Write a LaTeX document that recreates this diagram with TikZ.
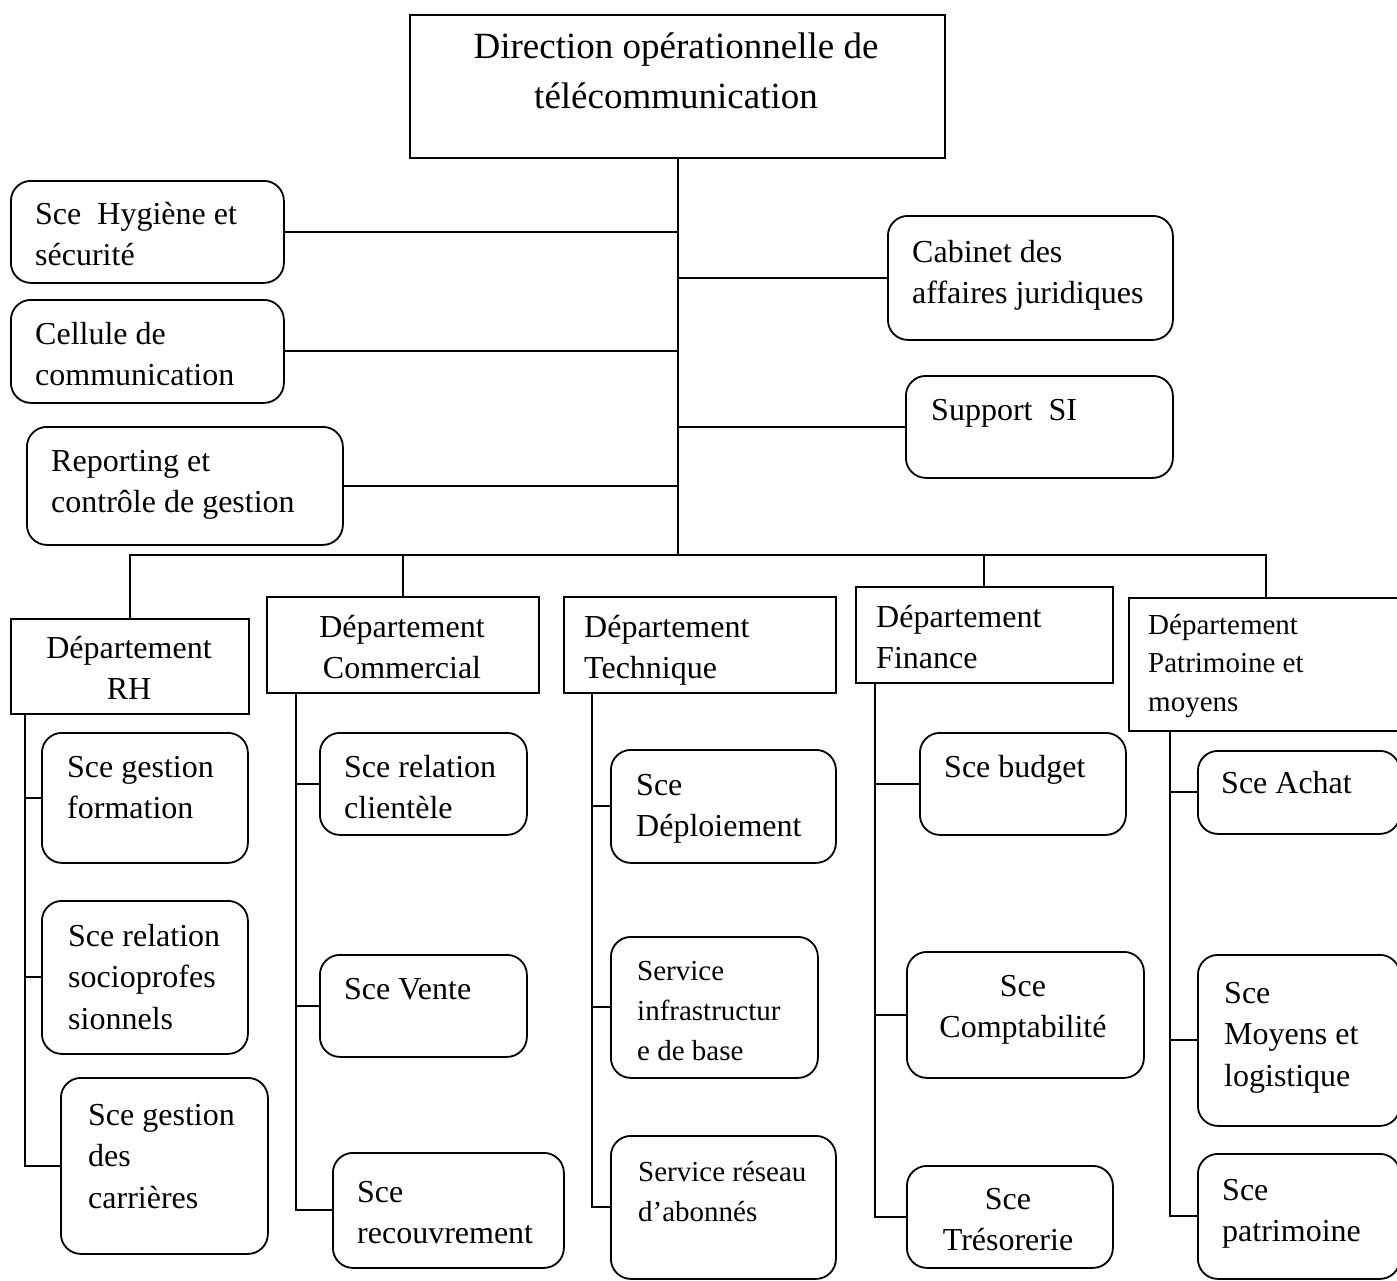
\documentclass[tikz,border=0pt]{standalone}
\usepackage{fontspec}
\setmainfont{Liberation Serif}
\usepackage{tikz}

\tikzset{
  conn/.style={line width=2pt},
  svc/.style={draw, line width=1.8pt, rounded corners=20pt, anchor=north west, inner sep=0pt},
  dept/.style={draw, line width=1.8pt, anchor=north west, inner sep=0pt},
  lbl/.style={anchor=base west, align=left, inner sep=0pt, font=\fontsize{32}{41.5}\selectfont},
  clbl/.style={anchor=base, align=center, inner sep=0pt, font=\fontsize{32}{41.5}\selectfont},
  small/.style={font=\fontsize{29}{40}\selectfont},
}

\begin{document}
\begin{tikzpicture}[x=1pt, y=-1pt]
    \useasboundingbox (0,0) rectangle (1397,1280);

    % direction + departments (square boxes)
    \foreach \nm/\x/\y/\w/\h in {title/409/14/535/143, rh/10/618/238/95, com/266/596/272/96,
        tec/563/596/272/96, fin/855/586/257/96, pat/1128/597/274/133}
        \node[dept, minimum width=\w pt, minimum height=\h pt] (\nm) at (\x,\y) {};

    % services (rounded boxes)
    \foreach \nm/\x/\y/\w/\h in {hyg/10/180/273/102, cell/10/299/273/103, rep/26/426/316/118,
        cab/887/215/285/124, sup/905/375/267/102,
        formation/41/732/206/130, socio/41/900/206/153, carrieres/60/1077/207/176,
        clientele/319/732/207/102, vente/319/954/207/102, recouv/332/1152/231/115,
        deploi/610/749/225/113, infra/610/936/207/141, reseau/610/1135/225/143,
        budget/919/732/206/102, compta/906/951/237/126, treso/906/1165/206/102,
        achat/1197/750/202/83, moyens/1197/954/202/171, patri/1197/1153/202/125}
        \node[svc, minimum width=\w pt, minimum height=\h pt] (\nm) at (\x,\y) {};

    % texts (y = baseline of the last line)
    \node[clbl, font=\fontsize{37}{50}\selectfont] (title-t) at (676,108) {Direction opérationnelle de\\télécommunication};
    \foreach \nm/\x/\y/\txt in {hyg/35/265.5/{Sce~ Hygiène et\\sécurité}, cell/35/385.5/{Cellule de\\communication},
        rep/51/512.5/{Reporting et\\contrôle de gestion}, cab/912/303.5/{Cabinet des\\affaires juridiques},
        sup/931/420/{Support~ SI}, tec/584/678.5/{Département\\Technique}, fin/876/668.5/{Département\\Finance},
        formation/67/818.5/{Sce gestion\\formation}, socio/68/1029/{Sce relation\\socioprofes\\sionnels},
        carrieres/88/1208/{Sce gestion\\des\\carrières}, clientele/344/818.5/{Sce relation\\clientèle},
        vente/344/999/{Sce Vente}, recouv/357/1243.5/{Sce\\recouvrement},
        deploi/636/836.5/{Sce\\Déploiement}, budget/944/777/{Sce budget},
        achat/1221/793/{Sce Achat}, moyens/1224/1086/{Sce\\Moyens et\\logistique}, patri/1222/1241.5/{Sce\\patrimoine}}
        \node[lbl] (\nm-t) at (\x,\y) {\txt};
    \foreach \nm/\x/\y/\txt in {rh/129/699.5/{Département\\RH}, com/402/678.5/{Département\\Commercial},
        compta/1023/1037.5/{Sce\\Comptabilité}, treso/1008/1250.5/{Sce\\Trésorerie}}
        \node[clbl] (\nm-t) at (\x,\y) {\txt};
    \node[lbl, small] (infra-t) at (637,1060) {Service\\infrastructur\\e de base};
    \node[lbl, small] (reseau-t) at (638,1221) {Service réseau\\d’abonnés};
    \node[lbl, font=\fontsize{29}{38.5}\selectfont] (pat-t) at (1148,711) {Département\\Patrimoine et\\moyens};

    % spine and bus
    \coordinate (bus) at (678,555);
    \draw[conn] (title.south -| bus) -- (bus);
    \foreach \b in {hyg,cell,rep}
        \draw[conn] (\b.east) -- (\b.east -| bus);
    \foreach \b in {cab,sup}
        \draw[conn] (\b.west -| bus) -- (\b.west);
    \draw[conn] (rh.north) -- (rh.north |- bus) -- (pat.north |- bus) -- (pat.north);
    \foreach \d in {com,fin}
        \draw[conn] (\d.north |- bus) -- (\d.north);

    % department lines
    \coordinate (rh-s) at (25,713);
    \coordinate (com-s) at (296,692);
    \coordinate (tec-s) at (592,692);
    \coordinate (fin-s) at (875,682);
    \coordinate (pat-s) at (1170,730);
    \foreach \d/\last/\others in {rh-s/carrieres/{formation,socio}, com-s/recouv/{clientele,vente},
        tec-s/reseau/{deploi,infra}, fin-s/treso/{budget,compta}, pat-s/patri/{achat,moyens}} {
        \draw[conn] (\d) |- (\last.west);
        \foreach \o in \others
            \draw[conn] (\d |- \o.west) -- (\o.west);
    }
\end{tikzpicture}
\end{document}
